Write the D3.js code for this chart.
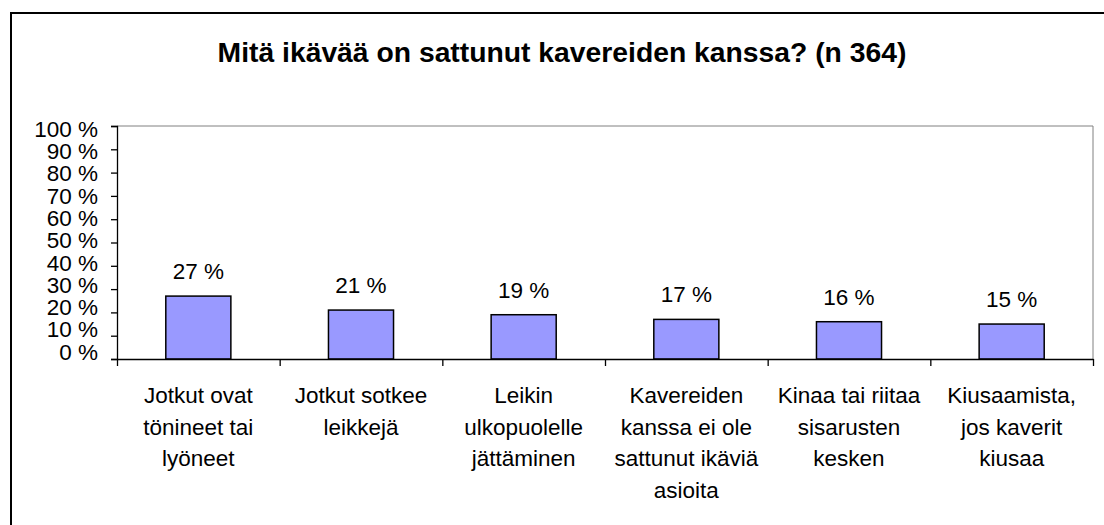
<!DOCTYPE html>
<html>
<head>
<meta charset="utf-8">
<script src="https://cdn.jsdelivr.net/npm/d3@7"></script>
<style>
  html, body { margin: 0; padding: 0; background: #fff; }
  svg { display: block; }
  text { font-family: "Liberation Sans", Arial, sans-serif; fill: #000; }
</style>
</head>
<body>
<svg id="chart" width="1104" height="525"></svg>
<script>
const title = "Mitä ikävää on sattunut kavereiden kanssa? (n 364)";
const categories = [
  "Jotkut ovat tönineet tai lyöneet",
  "Jotkut sotkee leikkejä",
  "Leikin ulkopuolelle jättäminen",
  "Kavereiden kanssa ei ole sattunut ikäviä asioita",
  "Kinaa tai riitaa sisarusten kesken",
  "Kiusaamista, jos kaverit kiusaa"
];
const categoryLines = [
  ["Jotkut ovat", "tönineet tai", "lyöneet"],
  ["Jotkut sotkee", "leikkejä"],
  ["Leikin", "ulkopuolelle", "jättäminen"],
  ["Kavereiden", "kanssa ei ole", "sattunut ikäviä", "asioita"],
  ["Kinaa tai riitaa", "sisarusten", "kesken"],
  ["Kiusaamista,", "jos kaverit", "kiusaa"]
];
const values = [0.27, 0.21, 0.19, 0.17, 0.16, 0.15];
const valueLabels = ["27 %", "21 %", "19 %", "17 %", "16 %", "15 %"];
const yTicks = [0, 0.1, 0.2, 0.3, 0.4, 0.5, 0.6, 0.7, 0.8, 0.9, 1.0];
const yTickLabels = ["0 %", "10 %", "20 %", "30 %", "40 %", "50 %", "60 %", "70 %", "80 %", "90 %", "100 %"];

const svg = d3.select("#chart");
const plot = { left: 117, right: 1093, top: 126, bottom: 359 };

// outer chart border (extends beyond the right and bottom edges)
svg.append("rect")
  .attr("x", 11).attr("y", 13)
  .attr("width", 1110).attr("height", 540)
  .attr("fill", "#fff")
  .attr("stroke", "#000")
  .attr("stroke-width", 2);

// title
svg.append("text")
  .attr("x", 562).attr("y", 62)
  .attr("text-anchor", "middle")
  .style("font-size", "28.3px")
  .style("font-weight", "bold")
  .text(title);

const x = d3.scaleBand().domain(categories).range([plot.left, plot.right]).paddingInner(0).paddingOuter(0);
const y = d3.scaleLinear().domain([0, 1]).range([plot.bottom, plot.top]);

// plot frame (top and right in gray)
svg.append("path")
  .attr("d", `M${plot.left},${plot.top}H${plot.right}V${plot.bottom}`)
  .attr("fill", "none")
  .attr("stroke", "#808080")
  .attr("stroke-width", 1);

// bars
const barW = x.bandwidth() * 0.4;
svg.append("g").selectAll("rect")
  .data(values)
  .join("rect")
  .attr("x", (d, i) => x(categories[i]) + (x.bandwidth() - barW) / 2)
  .attr("y", d => y(d))
  .attr("width", barW)
  .attr("height", d => y(0) - y(d))
  .attr("fill", "#9999FF")
  .attr("stroke", "#000")
  .attr("stroke-width", 1.5);

// value labels
svg.append("g").selectAll("text")
  .data(values)
  .join("text")
  .attr("x", (d, i) => x(categories[i]) + x.bandwidth() / 2)
  .attr("y", d => y(d) - 17)
  .attr("text-anchor", "middle")
  .style("font-size", "22.5px")
  .text((d, i) => valueLabels[i]);

// y axis
const yAxis = d3.axisLeft(y)
  .tickValues(yTicks)
  .tickSize(6)
  .tickPadding(13)
  .tickFormat((d, i) => yTickLabels[i]);
const gy = svg.append("g")
  .attr("transform", `translate(${plot.left},0)`)
  .call(yAxis);
gy.select(".domain").attr("stroke", "#000").attr("stroke-width", 1.3);
gy.selectAll(".tick line").attr("stroke", "#000").attr("stroke-width", 1.3);
gy.selectAll(".tick text")
  .style("font-size", "22.5px")
  .style("font-family", "'Liberation Sans', Arial, sans-serif")
  .attr("fill", "#000")
  .attr("y", d => -7 + 10 * d);

// x axis: baseline with ticks at category boundaries
const xb = d3.scaleLinear().domain([0, categories.length]).range([plot.left, plot.right]);
const xAxis = d3.axisBottom(xb)
  .tickValues(d3.range(0, categories.length + 1))
  .tickSize(7)
  .tickSizeOuter(0)
  .tickFormat("");
const gx = svg.append("g")
  .attr("transform", `translate(0,${plot.bottom})`)
  .call(xAxis);
gx.select(".domain").attr("stroke", "#000").attr("stroke-width", 1.3);
gx.selectAll(".tick line").attr("stroke", "#000").attr("stroke-width", 1.3);

// category labels
const catG = svg.append("g");
categories.forEach((c, i) => {
  const t = catG.append("text")
    .attr("x", x(c) + x.bandwidth() / 2)
    .attr("y", 403)
    .attr("text-anchor", "middle")
    .style("font-size", "22.5px");
  categoryLines[i].forEach((line, j) => {
    t.append("tspan")
      .attr("x", x(c) + x.bandwidth() / 2)
      .attr("y", 403 + j * 31.5)
      .text(line);
  });
});
</script>
</body>
</html>
